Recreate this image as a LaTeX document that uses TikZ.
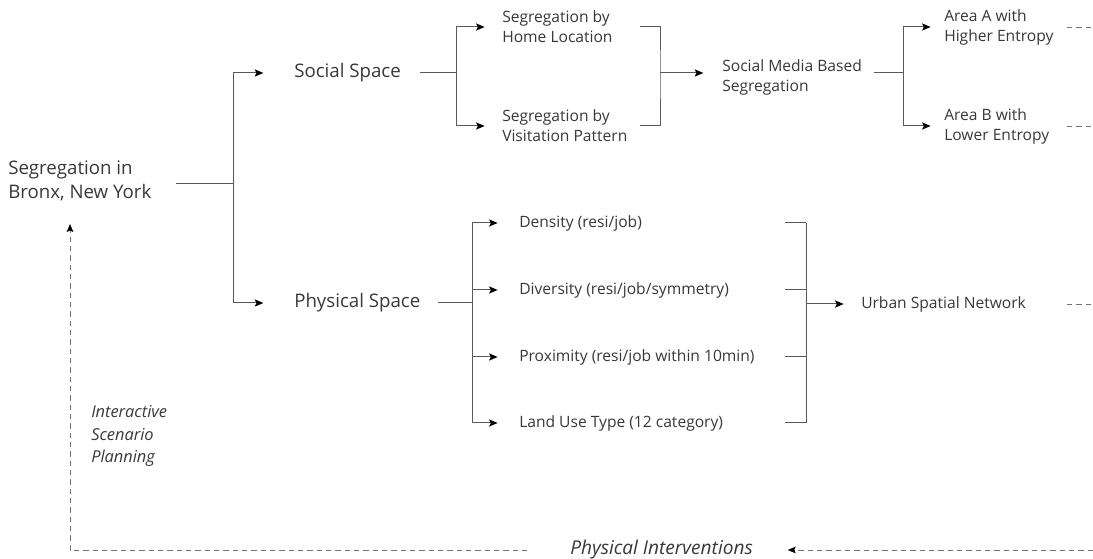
\documentclass[tikz,border=0pt]{standalone}
\usepackage{fontspec}
\setmainfont{Open Sans}
\usepackage{tikz}
\usetikzlibrary{arrows.meta}
\usetikzlibrary{calc}

\begin{document}
\begin{tikzpicture}[x=0.75pt,y=-0.75pt,
	txt/.style={anchor=west, inner sep=0pt, align=left, text=black!78},
	big/.style={txt, font=\fontsize{14}{18}\selectfont},
	mid/.style={txt, font=\fontsize{11.7}{15}\selectfont},
	note/.style={txt, font=\fontsize{12.3}{17}\selectfont\itshape},
	line/.style={draw=black!65, line width=0.75pt},
	arr/.style={line, -{Stealth[length=6.5pt,width=5.4pt,inset=1.4pt]}, arrows={[black]}},
	fb/.style={draw=black!55, line width=0.6pt, dash pattern=on 4pt off 3pt},
	fbarr/.style={fb, -{Stealth[length=6pt,width=5pt,inset=1.2pt]}, arrows={[black]}},
]
\useasboundingbox (0,0) rectangle (1093,559);

\node[big] (root) at (8,181) {Segregation in\\Bronx, New York};
\node[big] (soc) at (294,73) {Social Space};
\node[big] (phy) at (294,303) {Physical Space};
\node[mid] (home) at (502,27) {Segregation by\\Home Location};
\node[mid] (visit) at (502,126) {Segregation by\\Visitation Pattern};
\node[mid] (smb) at (722,77) {Social Media Based\\Segregation};
\node[mid] (areaA) at (944,27) {Area A with\\Higher Entropy};
\node[mid] (areaB) at (944,126) {Area B with\\Lower Entropy};
\node[mid] (dens) at (519,223) {Density (resi/job)};
\node[mid] (divs) at (519,290) {Diversity (resi/job/symmetry)};
\node[mid] (prox) at (519,357) {Proximity (resi/job within 10min)};
\node[mid] (land) at (519,423) {Land Use Type (12 category)};
\node[mid] (usn) at (861,304) {Urban Spatial Network};
\node[note] (isp) at (91,436) {Interactive\\Scenario\\Planning};
\node[note, font=\fontsize{14.3}{17}\selectfont\itshape] (pint) at (570,550) {Physical Interventions};

\coordinate (j0) at (233,184);
\coordinate (j1) at (456,73);
\coordinate (hb) at (640,0);
\coordinate (j2) at (660,73);
\coordinate (j3) at (903,73);
\coordinate (j4) at (472,303);
\coordinate (pb) at (785,0);
\coordinate (j5) at (806,304);
\coordinate (rimL) at (1067,0);
\coordinate (rim) at (1093,0);
\coordinate (fbx) at (70,224);

\draw[line] ($(j0 -| root.east)+(18pt,0)$) -- (j0);
\draw[arr] (j0) |- ([xshift=-23pt]soc.west);
\draw[arr] (j0) |- ([xshift=-23pt]phy.west);

\draw[line] ([xshift=14pt]soc.east) -- (j1);
\draw[arr] (j1) |- ([xshift=-13pt]home.west);
\draw[arr] (j1) |- ([xshift=-13pt]visit.west);
\draw[line] (home.east -| hb) -| (j2) |- (visit.east -| hb);
\draw[arr] (j2) -- ($(j2 -| smb.west)+(-14pt,0)$);

\draw[line] ($(j3 -| smb.east)+(9pt,0)$) -- (j3);
\draw[arr] (j3) |- ([xshift=-10pt]areaA.west);
\draw[arr] (j3) |- ([xshift=-10pt]areaB.west);

\draw[line] ([xshift=13pt]phy.east) -- (j4);
\foreach \n in {dens,divs,prox,land}
{
	\draw[arr] (j4) |- ([xshift=-16pt]\n.west);
	\draw[line] (\n.east -| pb) -- (\n.east -| j5);
}
\draw[line] (dens.east -| j5) -- (land.east -| j5);
\draw[arr] (j5) -- ([xshift=-13pt]usn.west);

\foreach \n in {areaA,areaB,usn}
	\draw[fb] (\n.east -| rimL) -- (\n.east -| rim);

\draw[fbarr] (pint.east -| rim) -- ([xshift=26pt]pint.east);
\draw[fbarr] ([xshift=-32pt]pint.west) -| (fbx);
\end{tikzpicture}
\end{document}
